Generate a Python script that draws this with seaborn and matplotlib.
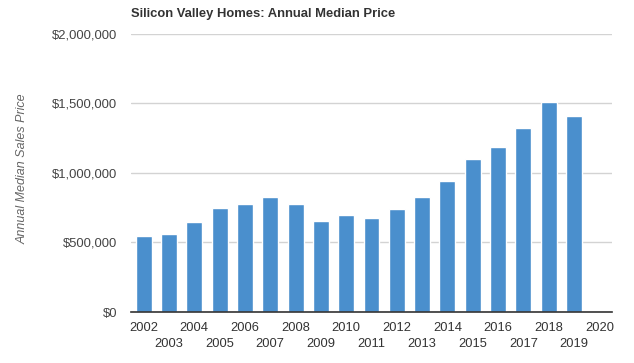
import numpy as np
import pandas as pd
import matplotlib
matplotlib.use("Agg")
import matplotlib.pyplot as plt
import seaborn as sns
from matplotlib.ticker import FuncFormatter, FixedLocator, FixedFormatter

# Annual median sales price
years = [str(y) for y in range(2002, 2020)]
prices = [543000, 560000, 646000, 747000, 775000, 826000, 775000, 653000, 696000,
          675000, 739000, 826000, 940000, 1098000, 1184000, 1321000, 1507000, 1407000]
# the axis runs one slot past the data (2020 has no bar yet)
axis_years = [str(y) for y in range(2002, 2021)]

df = pd.DataFrame({"year": years, "price": prices})

sns.set_style("white")
plt.rcParams['font.family'] = ['Liberation Sans', 'DejaVu Sans']

fig = plt.figure(figsize=(6.34, 3.63), dpi=100)
ax = fig.add_axes([131 / 634, 1 - 312 / 363, 481 / 634, 278.5 / 363])

sns.barplot(data=df, x="year", y="price", order=axis_years, color="#4a8fcd",
            saturation=1, width=0.63, ax=ax)

ax.set_ylim(0, 2000000)
ax.set_xlim(-0.5, len(axis_years) - 0.5)
ax.set_yticks([0, 500000, 1000000, 1500000, 2000000])
ax.yaxis.set_major_formatter(FuncFormatter(lambda v, p: f"${v:,.0f}"))
ax.grid(axis="y", color="#d3d3d3", linewidth=1)
ax.set_axisbelow(True)

# alternate the year labels on two rows: even years as major ticks, odd as minor
pos = list(range(len(axis_years)))
ax.xaxis.set_major_locator(FixedLocator(pos[0::2]))
ax.xaxis.set_major_formatter(FixedFormatter(axis_years[0::2]))
ax.xaxis.set_minor_locator(FixedLocator(pos[1::2]))
ax.xaxis.set_minor_formatter(FixedFormatter(axis_years[1::2]))
ax.tick_params(axis="x", which="both", length=0, labelsize=9.3, labelcolor="#333333")
ax.tick_params(axis="x", which="major", pad=7)
ax.tick_params(axis="x", which="minor", pad=19)
ax.tick_params(axis="y", length=0, pad=10, labelsize=9.4, labelcolor="#444444")

for side in ["top", "right", "left"]:
    ax.spines[side].set_visible(False)
ax.spines["bottom"].set_color("#333333")
ax.spines["bottom"].set_linewidth(1.2)

ax.set_xlabel("")
ax.set_ylabel("")
fig.text(23 / 634, 1 - 169 / 363, "Annual Median Sales Price", rotation=90,
         fontsize=9, fontstyle="italic", color="#666666", ha="center", va="center")
fig.text(131 / 634, 1 - 14 / 363, "Silicon Valley Homes: Annual Median Price",
         fontsize=9.4, fontweight="bold", color="#333333", ha="left", va="center")

fig.savefig("out.png", dpi=100)
